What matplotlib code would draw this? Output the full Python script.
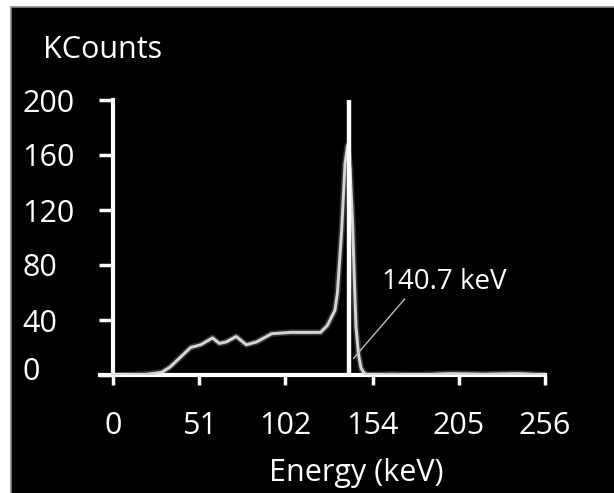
import numpy as np
import matplotlib
matplotlib.use('Agg')
import matplotlib.pyplot as plt
import matplotlib.transforms as mtransforms
from matplotlib.patches import Rectangle

plt.rcParams['font.family'] = ['Open Sans', 'DejaVu Sans']

# spectrum (energy in keV, counts in KCounts)
energy = [0, 10, 20, 29, 34, 40, 46, 52, 59, 63, 67, 73, 79, 85, 94, 105, 115, 123,
          127, 131.5, 133, 135.5, 137.5, 139, 140.5, 142, 143, 144, 145.5, 147, 149,
          152, 165, 180, 200, 220, 240, 256]
kcounts = [0, 0, 0.5, 2, 6, 13, 20, 22, 27, 23, 24, 28, 22, 24, 30, 31, 31, 31,
           36, 47, 60, 105, 154, 167, 150, 110, 70, 35, 15, 5, 1,
           0, 0.5, 0, 1, 0.5, 1, 0]

peak_energy = 140.7
peak_label = '140.7 keV'
xticks = [0, 51, 102, 154, 205, 256]
yticks = [0, 40, 80, 120, 160, 200]

fig = plt.figure(figsize=(6.14, 4.93), dpi=100, facecolor='white')
fig.patches.append(Rectangle((11 / 614, -0.1), 1.2, 1.1 - 7 / 493, transform=fig.transFigure,
                             facecolor='black', edgecolor='#8a8a8a', linewidth=1.2, zorder=0))

ax = fig.add_axes([99.5 / 614, 1 - 375 / 493, (545 - 99.5) / 614, 275 / 493])
ax.set_zorder(2)
ax.set_facecolor('none')
ax.set_xlim(-8, 256)
ax.set_ylim(0, 200)

# soft glow + trace
ax.plot(energy, kcounts, color='#9a9a9a', lw=4.5, alpha=0.35, solid_capstyle='round', zorder=2)
ax.plot(energy, kcounts, color='#d6d6d6', lw=2.1, solid_joinstyle='round', zorder=3)

# marker line at the photopeak
ax.plot([peak_energy - 0.9, peak_energy - 0.9], [0, 200], color='white', lw=3.2, zorder=4)

ax.annotate(peak_label, xy=(142.5, 12), xytext=(159.5, 67.5),
            color='white', fontsize=20, ha='left', va='center',
            arrowprops=dict(arrowstyle='-', color='#bdbdbd', lw=1.0,
                            shrinkA=0, shrinkB=0, relpos=(0.2, 0)))

for s in ['top', 'right']:
    ax.spines[s].set_visible(False)
ax.spines['left'].set_position(('data', 0))
for s in ['left', 'bottom']:
    ax.spines[s].set_color('white')
    ax.spines[s].set_linewidth(3)

ax.set_xticks(xticks)
ax.set_yticks(yticks)
ax.set_xticklabels([str(t) for t in xticks])
ax.set_yticklabels([str(t) for t in yticks], ha='left')
ax.tick_params(axis='x', colors='white', length=7, width=2.5, labelsize=22, pad=19)
ax.tick_params(axis='y', colors='white', length=10, width=2.5, labelsize=22, pad=55.5)

# the zero label sits a little above its tick in the original
zero_lab = ax.get_yticklabels()[0]
zero_lab.set_transform(zero_lab.get_transform() +
                       mtransforms.ScaledTranslation(0, 6 / 100, fig.dpi_scale_trans))

fig.text(43 / 614, 1 - 50 / 493, 'KCounts', color='white', fontsize=22, ha='left', va='center')
fig.text(356 / 614, 1 - 473 / 493, 'Energy (keV)', color='white', fontsize=22, ha='center', va='center')

fig.savefig('out.png', dpi=100, facecolor=fig.get_facecolor())
